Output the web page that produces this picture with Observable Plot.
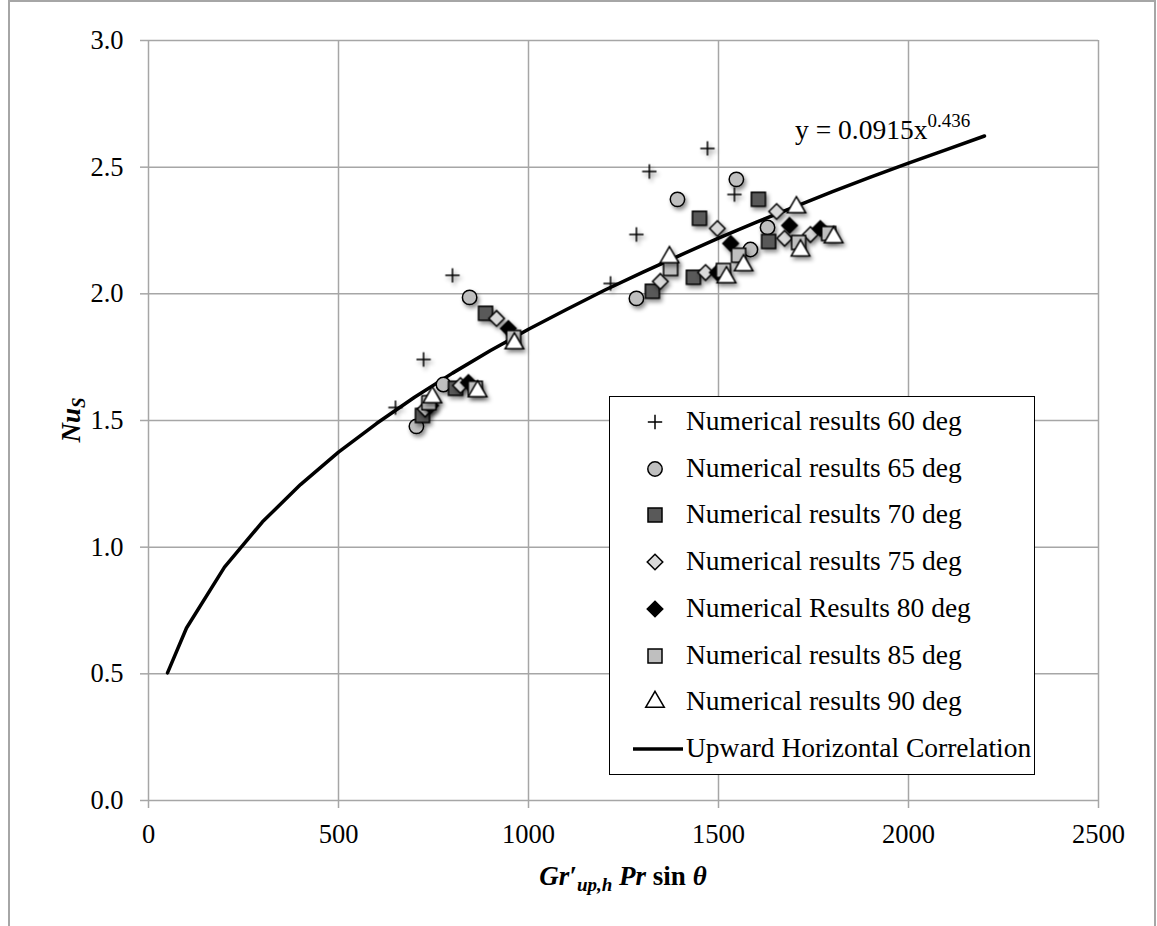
<!DOCTYPE html>
<html>
<head>
<meta charset="utf-8">
<script src="https://cdn.jsdelivr.net/npm/d3@7"></script>
<script src="https://cdn.jsdelivr.net/npm/@observablehq/plot@0.6"></script>
<style>
  body { margin: 0; background: #fff; }
  #wrap { position: relative; width: 1157px; height: 926px; overflow: hidden; font-family: "Liberation Serif", serif; background: #fff; }
  #wrap svg g[aria-label="dot"] { filter: drop-shadow(2px 3px 2px rgba(0,0,0,0.45)); }
  .bord { position: absolute; background: #a6a6a6; }
  #legend { position: absolute; left: 609px; top: 396px; width: 424px; height: 377px; border: 1.5px solid #000; background: #fff; }
  .row { position: absolute; left: 0; height: 46px; width: 100%; }
  .row svg { position: absolute; left: 28px; top: 6px; }
  .row span { position: absolute; left: 76px; top: 6px; font-size: 27.5px; line-height: 32px; color: #000; white-space: nowrap; }
</style>
</head>
<body>
<div id="wrap">
  <div class="bord" style="left:8px;top:0;width:1.5px;height:926px"></div>
  <div class="bord" style="left:1154px;top:0;width:1.5px;height:926px"></div>
  <div class="bord" style="left:8px;top:0;width:1148px;height:1.5px"></div>
</div>
<script>
// ---------- data ----------
const xTicks = [0, 500, 1000, 1500, 2000, 2500];
const yTicks = [0, 0.5, 1.0, 1.5, 2.0, 2.5, 3.0];

const s60x = [650, 724, 800, 1216, 1284, 1318, 1471, 1542];
const s60y = [1.551, 1.741, 2.073, 2.041, 2.234, 2.483, 2.574, 2.392];

const s65x = [705, 776, 845, 1284, 1392, 1547, 1584, 1629];
const s65y = [1.477, 1.642, 1.986, 1.982, 2.373, 2.452, 2.175, 2.262];

const s70x = [721, 808, 887, 1326, 1434, 1450, 1605, 1632];
const s70y = [1.520, 1.627, 1.923, 2.010, 2.065, 2.298, 2.373, 2.207];

const s75x = [728, 821, 916, 1347, 1466, 1497, 1653, 1674, 1742];
const s75y = [1.545, 1.638, 1.903, 2.049, 2.084, 2.258, 2.325, 2.219, 2.234];

const s80x = [742, 842, 947, 1497, 1532, 1687, 1768];
const s80y = [1.559, 1.650, 1.863, 2.084, 2.199, 2.270, 2.258];

const s85x = [738, 860, 961, 1374, 1513, 1553, 1711, 1790];
const s85y = [1.570, 1.627, 1.828, 2.100, 2.092, 2.152, 2.203, 2.238];

const s90x = [747, 866, 963, 1371, 1521, 1566, 1705, 1716, 1803];
const s90y = [1.591, 1.615, 1.804, 2.144, 2.065, 2.112, 2.341, 2.171, 2.223];

const corrX = [50, 100, 200, 300, 400, 500, 600, 700, 800, 900, 1000, 1100, 1200, 1300, 1400, 1500, 1600, 1700, 1800, 1900, 2000, 2100, 2200];
const corrY = [0.504, 0.681, 0.921, 1.100, 1.247, 1.375, 1.488, 1.592, 1.687, 1.776, 1.860, 1.938, 2.014, 2.085, 2.153, 2.220, 2.283, 2.343, 2.403, 2.461, 2.516, 2.569, 2.623];

const seriesNames = [
  "Numerical results 60 deg", "Numerical results 65 deg", "Numerical results 70 deg",
  "Numerical results 75 deg", "Numerical Results 80 deg", "Numerical results 85 deg",
  "Numerical results 90 deg"
];
const corrName = "Upward Horizontal Correlation";
const eqMain = "y = 0.0915x";
const eqSup = "0.436";
const eqX = [2050];
const eqY = [2.645];

// ---------- styling per series ----------
const styles = [
  { symbol: "plus", fill: "none", r: 4.7 },
  { symbol: "circle", fill: "#bfbfbf", r: 7.2 },
  { symbol: "square", fill: "#595959", r: 7.9 },
  { symbol: "diamond2", fill: "#d9d9d9", r: 7.0 },
  { symbol: "diamond2", fill: "#000000", r: 7.0 },
  { symbol: "square", fill: "#bfbfbf", r: 7.9 },
  { symbol: "triangle", fill: "#ffffff", r: 6.9 }
];
const xs = [s60x, s65x, s70x, s75x, s80x, s85x, s90x];
const ys = [s60y, s65y, s70y, s75y, s80y, s85y, s90y];

const rows = seriesNames.map((name, k) => xs[k].map((x, i) => ({ name, x, y: ys[k][i] })));
const corr = corrX.map((x, i) => ({ x, y: corrY[i] }));
const eq = eqX.map((x, i) => ({ x, y: eqY[i] }));

const gray = "#a6a6a6";
const plot = Plot.plot({
  width: 1157,
  height: 926,
  marginLeft: 148,
  marginRight: 59,
  marginTop: 40,
  marginBottom: 126,
  style: { fontFamily: "Liberation Serif, serif", background: "transparent", color: "#000" },
  x: { domain: [0, 2500], label: null },
  y: { domain: [0, 3], label: null },
  marks: [
    Plot.gridX(xTicks, { stroke: gray, strokeOpacity: 1, strokeWidth: 1.5 }),
    Plot.gridY(yTicks, { stroke: gray, strokeOpacity: 1, strokeWidth: 1.5 }),
    Plot.axisX(xTicks, { tickSize: 8, tickPadding: 16, stroke: gray, strokeWidth: 1.5, fill: "#000", fontSize: 26.5, tickFormat: d3.format("d"), label: null }),
    Plot.axisY(yTicks, { tickSize: 8, tickPadding: 17, stroke: gray, strokeWidth: 1.5, fill: "#000", fontSize: 26.5, tickFormat: d3.format(".1f"), label: null }),
    Plot.line(corr, { x: "x", y: "y", stroke: "#000", strokeWidth: 3.5 }),
    ...rows.map((data, k) => Plot.dot(data, {
      x: "x", y: "y", symbol: styles[k].symbol, r: styles[k].r,
      fill: styles[k].fill, stroke: "#000", strokeWidth: 1.5
    })),
    Plot.text(eq, { x: "x", y: "y", text: () => eqMain, textAnchor: "end", fontSize: 27.5, fill: "#000" }),
    Plot.text(eq, { x: "x", y: "y", text: () => eqSup, textAnchor: "start", fontSize: 19, dy: -10, fill: "#000" })
  ]
});
const wrap = document.getElementById("wrap");
wrap.insertBefore(plot, wrap.firstChild);

// axis titles with sub-scripts
const svg = d3.select(plot);
const xl = svg.append("text")
  .attr("x", 623).attr("y", 885)
  .attr("text-anchor", "middle")
  .attr("font-family", "Liberation Serif, serif")
  .attr("font-weight", "bold").attr("font-size", 27).attr("fill", "#000");
xl.append("tspan").attr("font-style", "italic").text("Gr′");
xl.append("tspan").attr("font-style", "italic").attr("font-size", 19).attr("dy", 6).text("up,h");
xl.append("tspan").attr("font-style", "italic").attr("dy", -6).text(" Pr");
xl.append("tspan").text(" sin ");
xl.append("tspan").attr("font-style", "italic").text("θ");

const yl = svg.append("text")
  .attr("transform", "translate(80,420) rotate(-90)")
  .attr("text-anchor", "middle")
  .attr("font-family", "Liberation Serif, serif")
  .attr("font-weight", "bold").attr("font-size", 27).attr("fill", "#000");
yl.append("tspan").attr("font-style", "italic").text("Nu");
yl.append("tspan").attr("font-style", "italic").attr("font-size", 19).attr("dy", 5).text("S");

// legend
const legend = document.createElement("div");
legend.id = "legend";
wrap.appendChild(legend);
const entries = seriesNames.map((n, k) => ({ name: n, st: styles[k] })).concat([{ name: corrName, st: null }]);
entries.forEach((e, i) => {
  const row = document.createElement("div");
  row.className = "row";
  row.style.top = (2 + 46.7 * i) + "px";
  const s = d3.create("svg").attr("width", 60).attr("height", 34);
  if (e.st) {
    const size = Math.PI * e.st.r * e.st.r;
    const symMap = { plus: d3.symbolPlus, circle: d3.symbolCircle, square: d3.symbolSquare, diamond2: d3.symbolDiamond2, triangle: d3.symbolTriangle };
    s.append("path")
      .attr("transform", "translate(17,17)")
      .attr("d", d3.symbol(symMap[e.st.symbol], size)())
      .attr("fill", e.st.fill).attr("stroke", "#000").attr("stroke-width", 1.5);
  } else {
    s.append("line").attr("x1", -5).attr("x2", 45).attr("y1", 17).attr("y2", 17)
      .attr("stroke", "#000").attr("stroke-width", 3.5);
    s.style("overflow", "visible");
  }
  row.appendChild(s.node());
  const t = document.createElement("span");
  t.textContent = e.name;
  row.appendChild(t);
  legend.appendChild(row);
});
</script>
</body>
</html>
